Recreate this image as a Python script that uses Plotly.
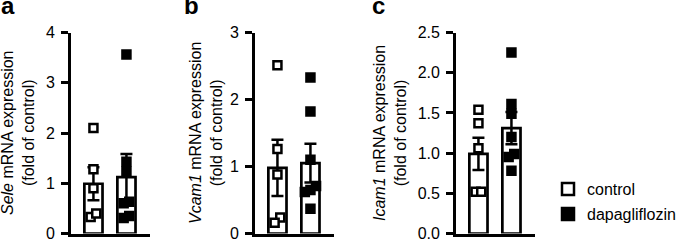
import plotly.graph_objects as go

# ---------------- data ----------------
groups = ["control", "dapagliflozin"]
genes = ["Sele", "Vcam1", "Icam1"]
panel_letters = ["a", "b", "c"]

sele_control = [2.10, 1.28, 0.90, 0.33, 0.40]
sele_dapa = [3.56, 1.43, 1.23, 0.63, 0.60, 0.35, 0.31]
sele_mean = [0.99, 1.12]
sele_sem = [0.33, 0.46]

vcam1_control = [2.51, 1.26, 0.88, 0.24, 0.16]
vcam1_dapa = [2.33, 1.82, 1.10, 0.71, 0.65, 0.62, 0.37]
vcam1_mean = [0.98, 1.05]
vcam1_sem = [0.42, 0.29]

icam1_control = [1.54, 1.37, 1.06, 0.52, 0.52]
icam1_dapa = [2.25, 1.61, 1.49, 1.20, 0.99, 0.95, 0.78]
icam1_mean = [0.99, 1.31]
icam1_sem = [0.20, 0.20]

y_max = [4, 3, 2.5]
y_dtick = [1, 1, 0.5]
y_format = ["d", "d", ".1f"]

# ---------------- layout geometry ----------------
W, H = 685, 241
FONT = "Liberation Sans, Arial, Helvetica, sans-serif"
x_left_px = [71, 255, 456]
x_range = [-0.68, 1.70]
unit_px = 33.0
y_bottom_px, y_top_px = 233.5, 32.5
title_center_px = [18, 206, 390]
letter_center_px = [8, 191.5, 378.5]
legend_sq_x = 568
legend_txt_x = 585
legend_y = [189, 214]

panels = [
    (sele_control, sele_dapa, sele_mean, sele_sem),
    (vcam1_control, vcam1_dapa, vcam1_mean, vcam1_sem),
    (icam1_control, icam1_dapa, icam1_mean, icam1_sem),
]


def spread(vals, ppu, d=0.17, thr_px=9):
    """Simple beeswarm: points closer than thr_px vertically are placed side by side."""
    order = sorted(range(len(vals)), key=lambda i: vals[i])
    clusters = []
    for i in order:
        if clusters and (vals[i] - vals[clusters[-1][-1]]) * ppu < thr_px:
            clusters[-1].append(i)
        else:
            clusters.append([i])
    offs = [0.0] * len(vals)
    for c in clusters:
        k = len(c)
        for j, i in enumerate(c):
            offs[i] = (j - (k - 1) / 2) * d
    return offs


fig = go.Figure()
annotations = []
shapes = []
ydom = [(H - y_bottom_px) / H, (H - y_top_px) / H]
axis_len_px = (x_range[1] - x_range[0]) * unit_px

for p, (ctrl, dapa, mean, sem) in enumerate(panels):
    xa = "x" if p == 0 else f"x{p+1}"
    ya = "y" if p == 0 else f"y{p+1}"
    ppu = (y_bottom_px - y_top_px) / y_max[p]

    fig.add_trace(go.Bar(
        x=[0, 1], y=mean, width=0.55, xaxis=xa, yaxis=ya,
        marker=dict(color="white", line=dict(color="black", width=2.7)),
        showlegend=False, hoverinfo="skip"))
    fig.add_trace(go.Scatter(
        x=[0, 1], y=mean, mode="markers", xaxis=xa, yaxis=ya,
        marker=dict(size=1, color="rgba(0,0,0,0)"),
        error_y=dict(type="data", array=sem, visible=True,
                     color="black", thickness=2.5, width=6),
        showlegend=False, hoverinfo="skip"))
    oc = spread(ctrl, ppu)
    od = spread(dapa, ppu)
    fig.add_trace(go.Scatter(
        x=[0 + o for o in oc], y=ctrl, mode="markers", xaxis=xa, yaxis=ya,
        name=groups[0], showlegend=False,
        marker=dict(symbol="square", size=8, color="white",
                    line=dict(color="black", width=2.5))))
    fig.add_trace(go.Scatter(
        x=[1 + o for o in od], y=dapa, mode="markers", xaxis=xa, yaxis=ya,
        name=groups[1], showlegend=False,
        marker=dict(symbol="square", size=8, color="black",
                    line=dict(color="black", width=2.5))))

    x0 = x_left_px[p] / W
    x1 = (x_left_px[p] + axis_len_px) / W
    fig.update_layout(**{
        ("xaxis" if p == 0 else f"xaxis{p+1}"): dict(
            domain=[x0, x1], range=x_range, anchor=ya, automargin=False,
            showline=True, linecolor="black", linewidth=2.7,
            showticklabels=False, ticks="", showgrid=False, zeroline=False,
            fixedrange=True),
        ("yaxis" if p == 0 else f"yaxis{p+1}"): dict(
            domain=ydom, range=[0, y_max[p]], anchor=xa, automargin=False,
            dtick=y_dtick[p], tick0=0, tickformat=y_format[p],
            showline=True, linecolor="black", linewidth=2.7,
            ticks="outside", ticklen=7, tickwidth=2.5, tickcolor="black",
            ticklabelstandoff=3, ticklabeloverflow="allow",
            tickfont=dict(family=FONT, size=16, color="black"),
            showgrid=False, zeroline=False, fixedrange=True),
    })

    annotations.append(dict(
        text=f"<i>{genes[p]}</i> mRNA expression<br>(fold of control)",
        x=title_center_px[p] / W, y=sum(ydom) / 2, xref="paper", yref="paper",
        xanchor="center", yanchor="middle", textangle=-90, showarrow=False,
        font=dict(family=FONT, size=16, color="black")))
    annotations.append(dict(
        text=f"<b>{panel_letters[p]}</b>",
        x=letter_center_px[p] / W, y=1, xref="paper", yref="paper",
        xanchor="center", yanchor="top", yshift=10, showarrow=False,
        font=dict(family=FONT, size=24, color="black")))

# legend drawn as swatches + labels
for g, (fill, yc) in enumerate(zip(["white", "black"], legend_y)):
    shapes.append(dict(
        type="rect", xref="paper", yref="paper",
        x0=(legend_sq_x - 6) / W, x1=(legend_sq_x + 6) / W,
        y0=(H - yc - 6) / H, y1=(H - yc + 6) / H,
        fillcolor=fill, line=dict(color="black", width=2.5)))
    annotations.append(dict(
        text=groups[g], x=legend_txt_x / W, y=(H - yc) / H,
        xref="paper", yref="paper", xanchor="left", yanchor="middle",
        showarrow=False, font=dict(family=FONT, size=16, color="black")))

fig.update_layout(
    width=W, height=H,
    margin=dict(l=0, r=0, t=0, b=0, autoexpand=False),
    paper_bgcolor="white", plot_bgcolor="white",
    font=dict(family=FONT, size=16, color="black"),
    annotations=annotations, shapes=shapes,
    showlegend=False,
)

fig.write_html("out.html",
               config={"displayModeBar": False},
               post_script="document.body.style.margin='0px';"
                           "document.body.style.overflow='hidden';")
